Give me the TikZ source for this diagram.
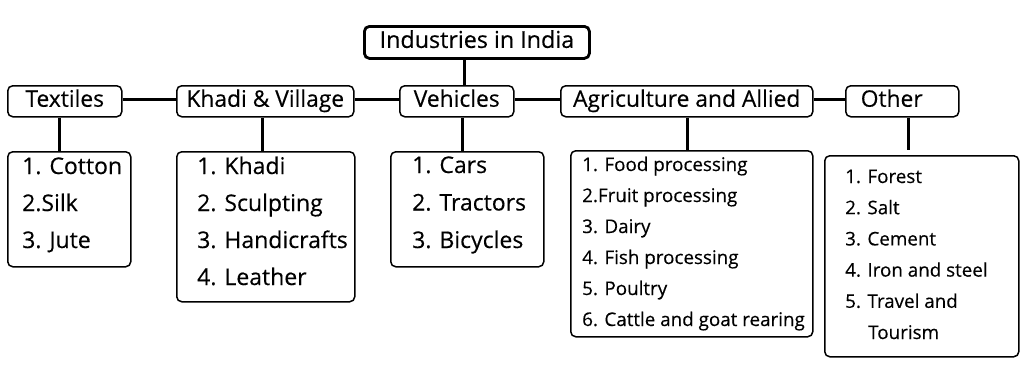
\documentclass[tikz,border=0pt]{standalone}
\usepackage{fontspec}
\setmainfont{Open Sans}[FakeBold=0.35]
\newcommand\mylist[2]{\vtop{\baselineskip=#1\lineskiplimit=-100pt\lineskip=0pt\relax #2}}
\begin{document}
\begin{tikzpicture}[x=1pt,y=-1pt,
  box/.style={draw, line width=1.5pt, rounded corners=5pt, inner sep=0pt, anchor=north west},
  topbox/.style={box, line width=2.8pt, font=\fontsize{23.3}{26}\selectfont, text height=16pt, text depth=5pt},
  lbl/.style={box, font=\fontsize{22.8}{26}\selectfont, text height=16pt, text depth=5pt, minimum height=31pt},
  link/.style={line width=2.8pt},
  big/.style={anchor=base west, inner sep=0pt, font=\fontsize{23}{26}\selectfont},
  small/.style={anchor=base west, inner sep=0pt, font=\fontsize{18.8}{22}\selectfont}]
\useasboundingbox (0,0) rectangle (1024,368);
% top
\node[topbox, minimum width=225pt, minimum height=32pt] (title) at (363,25) {Industries in India};
% level 1
\node[lbl, minimum width=114pt] (tex) at (7,85) {Textiles};
\node[lbl, minimum width=177pt] (kh) at (176,85) {Khadi \& Village};
\node[lbl, minimum width=114pt] (veh) at (399,85) {Vehicles};
\node[lbl, minimum width=252pt] (agr) at (560,85) {Agriculture and Allied};
\node[lbl, minimum width=113pt, text width=83pt, align=left, inner xsep=15pt] (oth) at (845,85) {Other};
% list boxes
\node[box, minimum width=123pt, minimum height=115pt] (tl) at (7,151) {};
\node[box, minimum width=178pt, minimum height=150pt] (kl) at (176,151) {};
\node[box, minimum width=153pt, minimum height=115pt] (vl) at (390,151) {};
\node[box, minimum width=242pt, minimum height=186pt] (al) at (570,150) {};
\node[box, minimum width=194pt, minimum height=201pt] (ol) at (824,155) {};
% list texts
\node[big] (tlt) at (22,174) {\mylist{37pt}{\hbox{1. Cotton}\hbox{2.Silk}\hbox{3. Jute}}};
\node[big] (klt) at (197,174) {\mylist{37pt}{\hbox{1. Khadi}\hbox{2. Sculpting}\hbox{3. Handicrafts}\hbox{4. Leather}}};
\node[big] (vlt) at (412,173) {\mylist{37.5pt}{\hbox{1. Cars}\hbox{2. Tractors}\hbox{3. Bicycles}}};
\node[small] (alt) at (582,171) {\mylist{31pt}{\hbox{1. Food processing}\hbox{2.Fruit processing}\hbox{3. Dairy}\hbox{4. Fish processing}\hbox{5. Poultry}\hbox{6. Cattle and goat rearing}}};
\node[small] (olt) at (845,183) {\mylist{31.2pt}{\hbox{1. Forest}\hbox{2. Salt}\hbox{3. Cement}\hbox{4. Iron and steel}\hbox{5. Travel and}\hbox{\kern23pt Tourism}}};
% connectors
\draw[link] ([yshift=1.5pt]tex.east) -- ([yshift=1.5pt]kh.west);
\draw[link] ([yshift=1.5pt]kh.east) -- ([yshift=1.5pt]veh.west);
\draw[link] ([yshift=1.5pt]veh.east) -- ([yshift=1.5pt]agr.west);
\draw[link] ([yshift=1.5pt]agr.east) -- ([yshift=1.5pt]oth.west);
\draw[link] ([xshift=-12.5pt]title.south) -- ([xshift=-12.5pt]title.south |- veh.north);
\draw[link] ([xshift=-5pt]tex.south) -- ([xshift=-5pt]tex.south |- tl.north);
\draw[link] ([xshift=-2.5pt]kh.south) -- ([xshift=-2.5pt]kh.south |- kl.north);
\draw[link] ([xshift=6pt]veh.south) -- ([xshift=6pt]veh.south |- vl.north);
\draw[link] ([xshift=1pt]agr.south) -- ([xshift=1pt]agr.south |- al.north);
\draw[link] ([xshift=6.5pt]oth.south) -- ([xshift=6.5pt,yshift=5pt]oth.south |- ol.north);
\end{tikzpicture}
\end{document}
